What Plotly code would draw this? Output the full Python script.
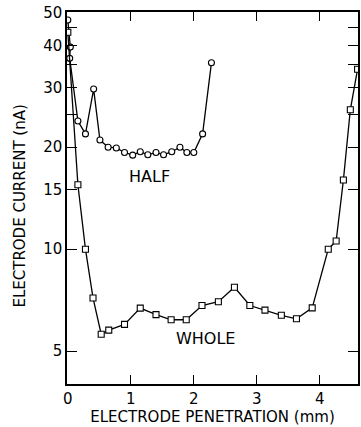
import plotly.graph_objects as go
import numpy as np

# HALF electrode (open circles)
half_x = [0.0, 0.04, 0.03, 0.16, 0.28, 0.41, 0.51, 0.64, 0.77, 0.90, 1.03, 1.15,
          1.27, 1.40, 1.52, 1.65, 1.78, 1.89, 2.00, 2.14, 2.28]
half_y = [47.5, 39.5, 36.6, 23.9, 21.9, 29.7, 21.0, 20.0, 19.9, 19.3, 18.95, 19.4,
          19.0, 19.3, 19.0, 19.4, 20.0, 19.3, 19.3, 21.9, 35.5]

# WHOLE electrode (open squares)
whole_x = [0.0, 0.16, 0.28, 0.40, 0.53, 0.65, 0.90, 1.15, 1.40, 1.64, 1.88, 2.13,
           2.39, 2.645, 2.89, 3.13, 3.39, 3.63, 3.88, 4.135, 4.26, 4.375, 4.485, 4.60]
whole_y = [43.7, 15.5, 10.0, 7.18, 5.61, 5.77, 6.0, 6.70, 6.41, 6.19, 6.19, 6.82,
           7.0, 7.72, 6.82, 6.61, 6.38, 6.23, 6.71, 10.0, 10.57, 16.0, 25.8, 34.0]

x_ticks = [0, 1, 2, 3, 4]
y_ticks = [5, 10, 15, 20, 25, 30, 35, 40, 45, 50]
y_text = ["5", "10", "15", "20", "", "30", "", "40", "", "50"]

FONT = "DejaVu Sans"

fig = go.Figure()
fig.add_trace(go.Scatter(
    x=half_x, y=half_y, mode="lines+markers",
    line=dict(color="black", width=1.3),
    marker=dict(symbol="circle", size=6, color="white", line=dict(color="black", width=1.1)),
    showlegend=False))
fig.add_trace(go.Scatter(
    x=whole_x, y=whole_y, mode="lines+markers",
    line=dict(color="black", width=1.3),
    marker=dict(symbol="square", size=6, color="white", line=dict(color="black", width=1.1)),
    showlegend=False))

fig.add_annotation(x=1.30, y=np.log10(16.4), text="HALF", showarrow=False,
                   font=dict(family=FONT, size=16, color="black"))
fig.add_annotation(x=2.18, y=np.log10(5.46), text="WHOLE", showarrow=False,
                   font=dict(family=FONT, size=16, color="black"))
fig.add_annotation(xref="paper", yref="paper", x=-0.198, y=0.478,
                   text="ELECTRODE CURRENT (nA)", textangle=-90, showarrow=False,
                   font=dict(family=FONT, size=15, color="black"))

fig.update_xaxes(
    range=[-0.013, 4.607], tickvals=x_ticks, ticktext=[str(v) for v in x_ticks],
    ticks="inside", ticklen=9, tickwidth=1.3, tickcolor="black",
    showline=True, linecolor="black", linewidth=1.5, mirror="ticks",
    showgrid=False, zeroline=False,
    tickfont=dict(family=FONT, size=15, color="black"),
    title=dict(text="ELECTRODE PENETRATION (mm)", standoff=2,
               font=dict(family=FONT, size=15, color="black")))
fig.update_yaxes(
    type="log", range=[np.log10(4.0), np.log10(50.15)],
    tickvals=y_ticks, ticktext=y_text,
    ticks="inside", ticklen=10, tickwidth=1.3, tickcolor="black",
    showline=True, linecolor="black", linewidth=1.5, mirror="ticks",
    showgrid=False, zeroline=False,
    tickfont=dict(family=FONT, size=15, color="black"))

fig.update_layout(
    width=361, height=427,
    margin=dict(l=67, r=1, t=12, b=43),
    paper_bgcolor="white", plot_bgcolor="white",
    font=dict(family=FONT, color="black"))

fig.write_html("out.html")
